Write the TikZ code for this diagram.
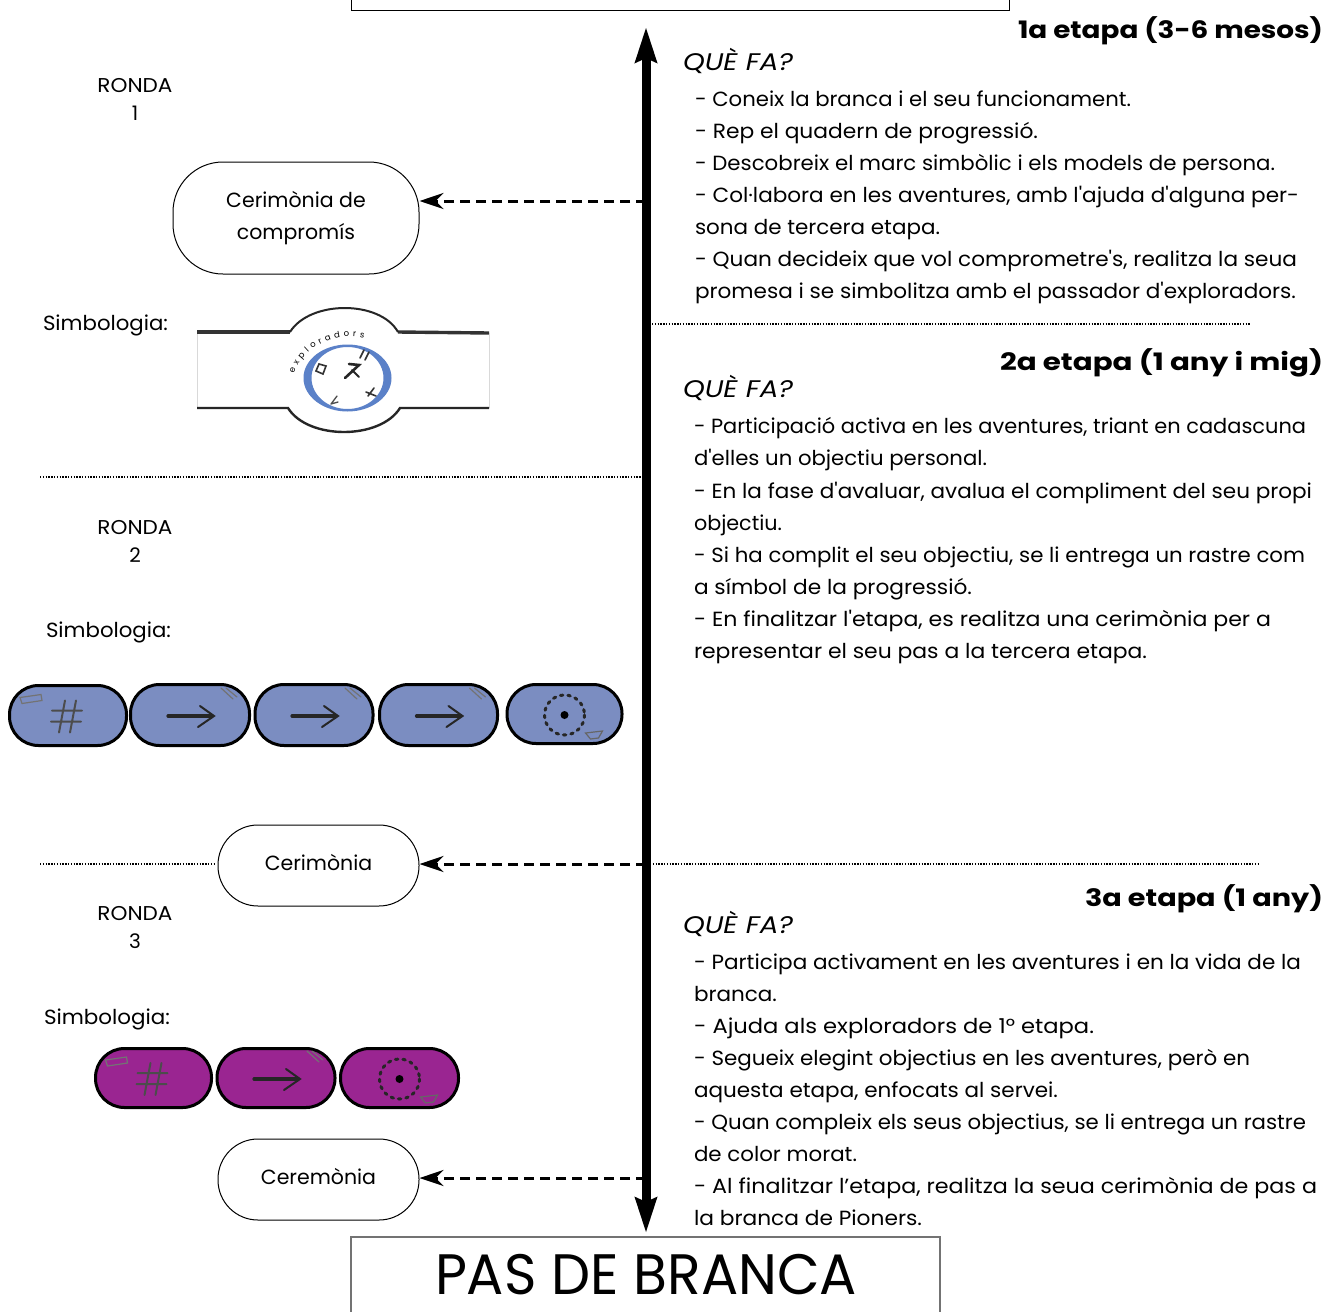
\documentclass[tikz,border=0pt]{standalone}
\usepackage{fontspec}
\usepackage{graphicx}
\setmainfont{Poppins}
\newfontfamily\bodyf{Poppins}
\usetikzlibrary{arrows.meta,decorations.text}
\definecolor{bluebadge}{HTML}{7B8DC1}
\definecolor{purplebadge}{HTML}{9A2591}
\definecolor{ringblue}{HTML}{5B81C8}
\tikzset{
  x=1pt,y=-1pt,
  txt/.style={anchor=base west,inner sep=0pt,outer sep=0pt,text=black},
  ceremony/.style={draw=black,line width=1pt,fill=white,rounded corners=40pt,inner sep=0pt,align=center,font=\bodyf\fontsize{20.5}{32}\selectfont},
  dashlink/.style={draw=black,line width=3pt,dash pattern=on 10pt off 6pt,-{Stealth[length=24pt,width=16pt,inset=8pt]}},
  mainaxis/.style={draw=black,line width=9pt,{Stealth[length=35pt,width=21pt,inset=4pt]}-{Stealth[length=35pt,width=21pt,inset=4pt]}},
  dots/.style={draw=black,line width=1.4pt,dash pattern=on 1.4pt off 1.4pt},
  framebox/.style={draw=black,line width=1pt},
  pill/.style={draw=black,line width=3pt,rounded corners=29pt},
  glyph/.style={draw=black!85,line cap=round},
  ronda/.style={align=center,inner sep=0pt,font=\bodyf\fontsize{20}{28}\selectfont},
}
% fitted line of text: name, x, baseline y, width, font size, text
\newcommand\tl[6]{\node[txt] (#1) at (#2,#3) {\resizebox{#4pt}{\height}{\bodyf\fontsize{#5}{#5}\selectfont #6}};}
\newcommand\bl[4]{\tl{#1}{#2}{#3}{#4}{20.5}}
\newcommand\rondaword{\resizebox{75pt}{\height}{RONDA}}
\newcommand\hashglyph{%
  \draw[glyph,line width=2pt,draw=black!70] (-3,-15) -- (-9,17) (8,-15) -- (2,17) (-16,-5) -- (14,-5) (-17,6) -- (13,6);
  \draw[glyph,line width=1.2pt,draw=black!55] (-48,-18) -- (-27,-21) -- (-26,-15) -- (-46,-12) -- cycle;
}
\newcommand\arrowglyph{%
  \draw[glyph,line width=3.2pt] (-22,1) -- (22,1);
  \draw[glyph,line width=2pt] (10,-9) -- (24,1) -- (8,12);
  \draw[glyph,line width=1.2pt,draw=black!55] (31,-27) -- (43,-16) (36,-27) -- (47,-18);
}
\newcommand\circleglyph{%
  \draw[glyph,line width=3pt,dash pattern=on 2.5pt off 5pt] (0,1) circle (20);
  \fill[black] (0,1) circle (4);
  \draw[glyph,line width=1.2pt,draw=black!60] (21,19) -- (38,17) -- (34,24) -- (26,25) -- cycle;
}
\newcommand\badge[6]{% cx cy halfwidth halfheight colour glyph
  \begin{scope}[shift={(#1,#2)}]
    \filldraw[pill,fill=#5] (-#3,-#4) rectangle (#3,#4);
    #6
  \end{scope}}
\begin{document}
\begin{tikzpicture}
\useasboundingbox (0,0) rectangle (1326,1312);
\fill[white] (0,0) rectangle (1326,1312);
% frames
\draw[framebox] (351,0) -- (351,10) -- (1009,10) -- (1009,0);
\draw[framebox,draw=black!55,line width=1.3pt] (351,1312) -- (351,1237) -- (940,1237) -- (940,1312);
\node[txt] (title) at (435,1294) {\resizebox{422pt}{\height}{\bodyf\fontsize{57}{57}\selectfont PAS DE BRANCA}};
% axis
\coordinate (axtop) at (646,27);
\coordinate (axbot) at (646,1233);
\coordinate (j1) at (646,201);
\coordinate (j2) at (646,864);
\coordinate (j3) at (646,1178);
% separators
\draw[dots] (652,324) -- (1250,324);
\draw[dots] (40,477) -- (644,477);
\draw[dots] (40,864) -- (215,864);
\draw[dots] (650,864) -- (1260,864);
% ceremonies
\node[ceremony,minimum width=246pt,minimum height=112pt,rounded corners=50pt] (c1) at (296,218) {Cerimònia de\\compromís};
\node[ceremony,minimum width=201pt,minimum height=81pt] (c2) at (318.5,865.5) {\raisebox{5.5pt}{Cerimònia}};
\node[ceremony,minimum width=201pt,minimum height=81pt] (c3) at (318.5,1179.5) {\raisebox{5.5pt}{Ceremònia}};
\draw[dashlink] (j1) -- (c1.east |- j1);
\draw[dashlink] (j2) -- (c2.east |- j2);
\draw[dashlink] (j3) -- (c3.east |- j3);
\draw[mainaxis] (axtop) -- (axbot);
% left labels
\node[ronda] (r1) at (135,99) {\rondaword\\1};
\node[ronda] (r2) at (135,541) {\rondaword\\2};
\node[ronda] (r3) at (135,927) {\rondaword\\3};
\bl{s1}{43}{330}{125}{Simbologia:}
\bl{s2}{46}{637}{125}{Simbologia:}
\bl{s3}{44}{1024}{126}{Simbologia:}
% badge of first stage
\draw[black!15,line width=1pt] (197,333) -- (197,408) (489,333) -- (489,408);
\draw[black!80,line width=3.4pt] (197,332) -- (290,332);
\draw[black!80,line width=3.4pt] (398,332) -- (489,333);
\draw[black!85,line width=2pt] (290,332) .. controls (310,300) and (380,300) .. (398,332);
\draw[black!85,line width=2.4pt] (197,408) -- (288,408) .. controls (308,440) and (380,440) .. (400,408) -- (489,408);
\fill[ringblue,even odd rule] (347.5,378) ellipse [x radius=44,y radius=33.5] (347.5,378) ellipse [x radius=36,y radius=31];
\draw[decorate,decoration={text along path,text align={fit to path},text={|\bodyf\fontsize{8.5}{8.5}\selectfont|exploradors}}] (294,374) .. controls (302,350) and (330,331) .. (364,338);
\begin{scope}[line cap=round]
  \draw[black!85,line width=2.6pt] (345,378) -- (359,365) -- (349,364);
  \draw[black!85,line width=2pt] (352,370) -- (359,377);
  \draw[black!80,line width=1.6pt] (319,364) -- (326,366) -- (323,374) -- (316,371) -- cycle;
  \draw[black!80,line width=1.6pt] (360,358) -- (364,350) (365,360) -- (369,352);
  \draw[black!80,line width=1.6pt] (368,396) -- (374,388) (366,392) -- (376,396);
  \draw[black!70,line width=1.3pt] (331,404) -- (337,396) (331,404) -- (338,402);
\end{scope}
% blue badges
\badge{68}{715.5}{58.5}{30}{bluebadge}{\hashglyph}
\badge{190}{715}{59.5}{30.5}{bluebadge}{\arrowglyph}
\badge{314}{715}{59}{30.5}{bluebadge}{\arrowglyph}
\badge{438.5}{715}{59}{30.5}{bluebadge}{\arrowglyph}
\badge{564.5}{714}{57.5}{29.5}{bluebadge}{\circleglyph}
% purple badges
\badge{153.5}{1078}{58}{29.5}{purplebadge}{\hashglyph}
\badge{276}{1078}{59}{29.5}{purplebadge}{\arrowglyph}
\badge{399.5}{1078}{59}{29.5}{purplebadge}{\circleglyph}
% stage 1
\tl{h1}{1018}{38}{305}{24}{\bfseries 1a etapa (3-6 mesos)}
\tl{q1}{683}{70}{110}{24}{\itshape QUÈ FA?}
\bl{a1}{695}{106}{436}{- Coneix la branca i el seu funcionament.}
\bl{a2}{695}{138}{343}{- Rep el quadern de progressió.}
\bl{a3}{695}{170}{580}{- Descobreix el marc simbòlic i els models de persona.}
\bl{a4}{695}{202}{604}{- Col·labora en les aventures, amb l'ajuda d'alguna per-}
\bl{a5}{695}{234}{245}{sona de tercera etapa.}
\bl{a6}{695}{266}{602}{- Quan decideix que vol comprometre's, realitza la seua}
\bl{a7}{695}{298}{601}{promesa i se simbolitza amb el passador d'exploradors.}
% stage 2
\tl{h2}{1000}{370}{323}{24}{\bfseries 2a etapa (1 any i mig)}
\tl{q2}{683}{397}{110}{24}{\itshape QUÈ FA?}
\bl{b1}{694}{433}{612}{- Participació activa en les aventures, triant en cadascuna}
\bl{b2}{694}{465}{293}{d'elles un objectiu personal.}
\bl{b3}{694}{498}{618}{- En la fase d'avaluar, avalua el compliment del seu propi}
\bl{b4}{694}{530}{88}{objectiu.}
\bl{b5}{694}{562}{611}{- Si ha complit el seu objectiu, se li entrega un rastre com}
\bl{b6}{694}{594}{278}{a símbol de la progressió.}
\bl{b7}{694}{626}{577}{- En finalitzar l'etapa, es realitza una cerimònia per a}
\bl{b8}{694}{658}{453}{representar el seu pas a la tercera etapa.}
% stage 3
\tl{h3}{1085}{906}{238}{24}{\bfseries 3a etapa (1 any)}
\tl{q3}{683}{933}{110}{24}{\itshape QUÈ FA?}
\bl{d1}{694}{969}{607}{- Participa activament en les aventures i en la vida de la}
\bl{d2}{694}{1001}{83}{branca.}
\bl{d3}{694}{1033}{400}{- Ajuda als exploradors de 1° etapa.}
\bl{d4}{694}{1065}{556}{- Segueix elegint objectius en les aventures, però en}
\bl{d5}{694}{1097}{364}{aquesta etapa, enfocats al servei.}
\bl{d6}{694}{1129}{612}{- Quan compleix els seus objectius, se li entrega un rastre}
\bl{d7}{694}{1161}{163}{de color morat.}
\bl{d8}{694}{1193}{623}{- Al finalitzar l’etapa, realitza la seua cerimònia de pas a}
\bl{d9}{694}{1225}{228}{la branca de Pioners.}
\end{tikzpicture}
\end{document}
